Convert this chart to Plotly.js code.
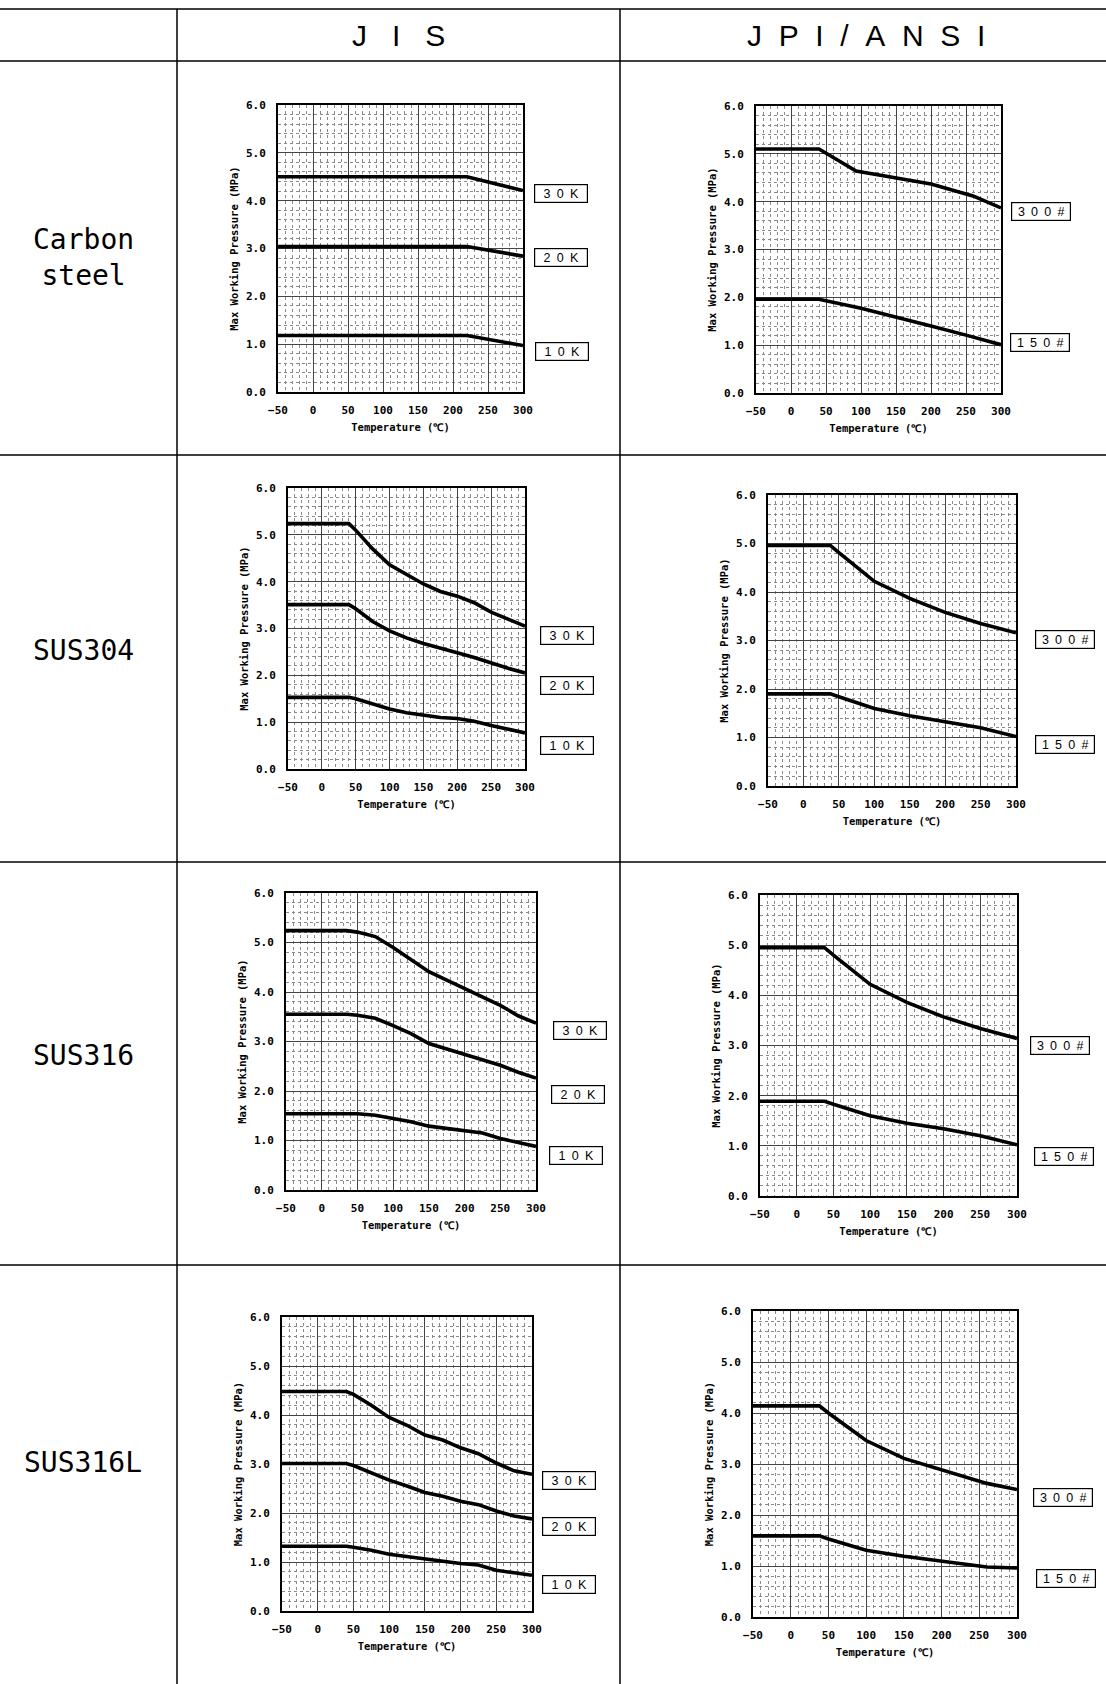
<!DOCTYPE html>
<html>
<head>
<meta charset="utf-8">
<script src="https://cdn.plot.ly/plotly-3.0.1.min.js"></script>
<style>html,body{margin:0;padding:0;background:#fff;}#chart{width:1106px;height:1684px;}</style>
</head>
<body>
<div id="chart"></div>
<script>
// ---------------- DATA (temperature °C, max working pressure MPa) ----------------
const columnHeaders = ["J\u00a0\u00a0\u00a0I\u00a0\u00a0\u00a0S", "J\u00a0\u00a0P\u00a0\u00a0I\u00a0\u00a0/\u00a0\u00a0A\u00a0\u00a0N\u00a0\u00a0S\u00a0\u00a0I"];
const rowLabels = ["Carbon<br>steel", "SUS304", "SUS316", "SUS316L"];
const jisClasses = ["3\u20020\u2002K", "2\u20020\u2002K", "1\u20020\u2002K"];
const jpiClasses = ["3\u20020\u20020\u2002#", "1\u20025\u20020\u2002#"];

// Carbon steel – JIS
const cs_jis_t   = [-50, 220, 300];
const cs_jis_30k = [4.50, 4.50, 4.21];
const cs_jis_20k = [3.04, 3.04, 2.84];
const cs_jis_10k = [1.18, 1.18, 0.97];
// Carbon steel – JPI/ANSI
const cs_jpi_300_t = [-50, 40, 93, 150, 200, 260, 300];
const cs_jpi_300   = [5.10, 5.10, 4.64, 4.50, 4.37, 4.12, 3.87];
const cs_jpi_150_t = [-50, 40, 100, 150, 200, 250, 300];
const cs_jpi_150   = [1.96, 1.96, 1.77, 1.59, 1.40, 1.21, 1.01];

// SUS304 – JIS
const s304_jis_t   = [-50, 40, 50, 75, 100, 125, 150, 175, 200, 225, 250, 275, 300];
const s304_jis_30k = [5.24, 5.24, 5.10, 4.70, 4.36, 4.15, 3.95, 3.79, 3.69, 3.55, 3.35, 3.20, 3.05];
const s304_jis_20k = [3.51, 3.51, 3.42, 3.15, 2.95, 2.80, 2.68, 2.57, 2.48, 2.38, 2.26, 2.15, 2.05];
const s304_jis_10k = [1.53, 1.53, 1.50, 1.38, 1.28, 1.20, 1.15, 1.10, 1.08, 1.02, 0.93, 0.85, 0.77];
// SUS304 – JPI/ANSI
const s304_jpi_t   = [-50, 38, 50, 100, 150, 200, 250, 300];
const s304_jpi_300 = [4.96, 4.96, 4.81, 4.22, 3.87, 3.58, 3.35, 3.16];
const s304_jpi_150 = [1.90, 1.90, 1.84, 1.60, 1.45, 1.33, 1.20, 1.02];

// SUS316 – JIS
const s316_jis_t   = [-50, 35, 50, 75, 100, 125, 150, 175, 200, 225, 250, 275, 300];
const s316_jis_30k = [5.24, 5.24, 5.21, 5.12, 4.90, 4.65, 4.41, 4.24, 4.07, 3.92, 3.73, 3.52, 3.37];
const s316_jis_20k = [3.55, 3.55, 3.53, 3.47, 3.32, 3.16, 2.96, 2.85, 2.74, 2.64, 2.52, 2.38, 2.26];
const s316_jis_10k = [1.54, 1.54, 1.54, 1.51, 1.45, 1.38, 1.29, 1.24, 1.20, 1.15, 1.04, 0.96, 0.88];
// SUS316 – JPI/ANSI
const s316_jpi_t   = [-50, 38, 50, 100, 150, 200, 250, 300];
const s316_jpi_300 = [4.95, 4.95, 4.80, 4.22, 3.86, 3.57, 3.34, 3.14];
const s316_jpi_150 = [1.89, 1.89, 1.83, 1.60, 1.45, 1.34, 1.20, 1.02];

// SUS316L – JIS
const s316l_jis_t   = [-50, 40, 50, 75, 100, 125, 150, 175, 200, 225, 250, 275, 300];
const s316l_jis_30k = [4.48, 4.48, 4.42, 4.20, 3.95, 3.79, 3.59, 3.49, 3.33, 3.21, 3.02, 2.86, 2.79];
const s316l_jis_20k = [3.01, 3.01, 2.97, 2.82, 2.67, 2.55, 2.42, 2.34, 2.24, 2.17, 2.04, 1.94, 1.88];
const s316l_jis_10k = [1.32, 1.32, 1.30, 1.24, 1.16, 1.11, 1.06, 1.02, 0.97, 0.94, 0.83, 0.78, 0.73];
// SUS316L – JPI/ANSI
const s316l_jpi_t   = [-50, 38, 50, 100, 150, 200, 260, 300];
const s316l_jpi_300 = [4.14, 4.14, 4.00, 3.46, 3.11, 2.88, 2.62, 2.50];
const s316l_jpi_150 = [1.59, 1.59, 1.53, 1.31, 1.19, 1.09, 0.98, 0.96];

const xTitle = "Temperature (\u2103)";
const yTitle = "Max Working Pressure (MPa)";

// ---------------- PANELS ----------------
const panels = [
  {series: [[cs_jis_t, cs_jis_30k], [cs_jis_t, cs_jis_20k], [cs_jis_t, cs_jis_10k]], labels: jisClasses},
  {series: [[cs_jpi_300_t, cs_jpi_300], [cs_jpi_150_t, cs_jpi_150]], labels: jpiClasses},
  {series: [[s304_jis_t, s304_jis_30k], [s304_jis_t, s304_jis_20k], [s304_jis_t, s304_jis_10k]], labels: jisClasses},
  {series: [[s304_jpi_t, s304_jpi_300], [s304_jpi_t, s304_jpi_150]], labels: jpiClasses},
  {series: [[s316_jis_t, s316_jis_30k], [s316_jis_t, s316_jis_20k], [s316_jis_t, s316_jis_10k]], labels: jisClasses},
  {series: [[s316_jpi_t, s316_jpi_300], [s316_jpi_t, s316_jpi_150]], labels: jpiClasses},
  {series: [[s316l_jis_t, s316l_jis_30k], [s316l_jis_t, s316l_jis_20k], [s316l_jis_t, s316l_jis_10k]], labels: jisClasses},
  {series: [[s316l_jpi_t, s316l_jpi_300], [s316l_jpi_t, s316l_jpi_150]], labels: jpiClasses}
];

// ---------------- LAYOUT GEOMETRY (pixels) ----------------
const W = 1106, H = 1684;
const boxes = [
  [278, 523, 105, 392], [756, 1001, 106, 393],
  [288, 525, 488, 769], [768, 1016, 495, 786],
  [286, 536, 893, 1190], [760, 1017, 895, 1196],
  [282, 532, 1317, 1611], [753, 1017, 1311, 1617]
];
const labelPos = [
  [[561, 193.5], [561, 257.5], [562, 351.5]],
  [[1041, 211.5], [1040, 342]],
  [[567, 635], [567, 685.7], [567, 745.4]],
  [[1064.5, 639.5], [1065, 744.8]],
  [[580, 1030.5], [578, 1094.5], [576, 1155]],
  [[1060, 1045.7], [1063.5, 1156.5]],
  [[569, 1480], [569, 1526.3], [569, 1584.7]],
  [[1063, 1497.8], [1065.5, 1578.3]]
];
const rowCenters = [258, 650, 1055, 1462];
const hLines = [9, 61, 455, 862, 1265];
const vLines = [177, 620];

const px = v => v / W;
const py = v => 1 - v / H;

const tickFont = {family: "DejaVu Sans Mono", size: 11, color: "#000", weight: "bold"};
const titleFont = {family: "DejaVu Sans Mono", size: 10.5, color: "#000", weight: "bold"};

const traces = [];
const layout = {
  width: W, height: H,
  margin: {l: 0, r: 0, t: 0, b: 0},
  paper_bgcolor: "#fff", plot_bgcolor: "#fff",
  showlegend: false,
  annotations: [], shapes: []
};

panels.forEach((pn, i) => {
  const k = i + 1;
  const xa = "xaxis" + (k === 1 ? "" : k), ya = "yaxis" + (k === 1 ? "" : k);
  const [x0, x1, y0, y1] = boxes[i];
  layout[xa] = {
    domain: [px(x0), px(x1)], anchor: "y" + (k === 1 ? "" : k),
    range: [-50, 300], tick0: 0, dtick: 50, ticks: "", ticklabelstandoff: 7,
    showgrid: true, gridcolor: "#444", gridwidth: 1,
    minor: {dtick: 10, showgrid: true, gridcolor: "#8a8a8a", griddash: "dot", gridwidth: 1},
    showline: true, mirror: true, linecolor: "#000", linewidth: 2,
    zeroline: false, fixedrange: true, tickfont: tickFont,
    title: {text: xTitle, font: titleFont, standoff: 7}
  };
  layout[ya] = {
    domain: [py(y1), py(y0)], anchor: "x" + (k === 1 ? "" : k),
    range: [0, 6], tick0: 0, dtick: 1, tickformat: ".1f", ticks: "", ticklabelstandoff: 8,
    showgrid: true, gridcolor: "#444", gridwidth: 1,
    minor: {dtick: 0.2, showgrid: true, gridcolor: "#8a8a8a", griddash: "dot", gridwidth: 1},
    showline: true, mirror: true, linecolor: "#000", linewidth: 2,
    zeroline: false, fixedrange: true, tickfont: tickFont,
    title: {text: yTitle, font: titleFont, standoff: 5}
  };
  pn.series.forEach((s, j) => {
    traces.push({
      x: s[0], y: s[1], type: "scatter", mode: "lines",
      xaxis: "x" + (k === 1 ? "" : k), yaxis: "y" + (k === 1 ? "" : k),
      line: {color: "#000", width: 3.6}, hoverinfo: "skip", name: pn.labels[j]
    });
    const [lx, ly] = labelPos[i][j];
    layout.annotations.push({
      xref: "paper", yref: "paper", x: px(lx), y: py(ly), xanchor: "center", yanchor: "middle",
      text: pn.labels[j], showarrow: false,
      font: {family: "Liberation Sans", size: 12.5, color: "#000"},
      bordercolor: "#000", borderwidth: 1.2, borderpad: 1, bgcolor: "#fff",
      width: pn.labels[j].length > 6 ? 56 : 50, height: 15
    });
  });
});

// Column headers
layout.annotations.push({xref: "paper", yref: "paper", x: px(398), y: py(35), xanchor: "center", yanchor: "middle",
  text: columnHeaders[0], showarrow: false, font: {family: "Liberation Sans", size: 30, color: "#000"}});
layout.annotations.push({xref: "paper", yref: "paper", x: px(866), y: py(35), xanchor: "center", yanchor: "middle",
  text: columnHeaders[1], showarrow: false, font: {family: "Liberation Sans", size: 30, color: "#000"}});
// Row labels
rowLabels.forEach((t, r) => {
  layout.annotations.push({xref: "paper", yref: "paper", x: px(83), y: py(rowCenters[r]),
    xanchor: "center", yanchor: "middle", text: t,
    showarrow: false, font: {family: "DejaVu Sans Mono", size: 28, color: "#000"}});
});
// Table rules
hLines.forEach(y => layout.shapes.push({type: "line", xref: "paper", yref: "paper",
  x0: 0, x1: 1, y0: py(y), y1: py(y), line: {color: "#000", width: 1.5}}));
vLines.forEach(x => layout.shapes.push({type: "line", xref: "paper", yref: "paper",
  x0: px(x), x1: px(x), y0: py(hLines[0]), y1: 0, line: {color: "#000", width: 1.5}}));

Plotly.newPlot("chart", traces, layout, {staticPlot: true, displayModeBar: false});
</script>
</body>
</html>
